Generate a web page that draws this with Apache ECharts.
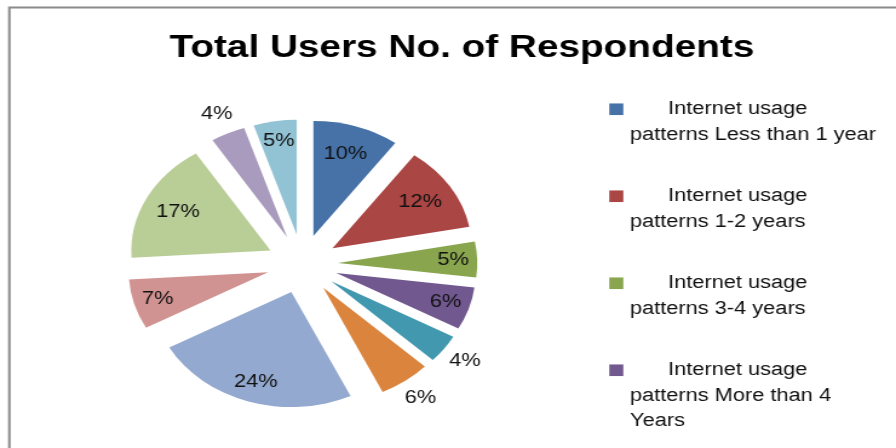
<!DOCTYPE html>
<html>
<head>
<meta charset="utf-8">
<script src="https://cdn.jsdelivr.net/npm/echarts@6/dist/echarts.min.js"></script>
<style>
  html, body { margin: 0; padding: 0; background: #fff; overflow: hidden; width: 896px; height: 448px; }
  /* the chart is laid out narrower and stretched horizontally to the full width */
  #chart { width: 740px; height: 448px; transform: scaleX(1.2108); transform-origin: 0 0; }
</style>
</head>
<body>
<div id="chart"></div>
<script>
// Respondent groups, clockwise from 12 o'clock
const categories = [
  'Internet usage patterns Less than 1 year',
  'Internet usage patterns 1-2 years',
  'Internet usage patterns 3-4 years',
  'Internet usage patterns More than 4 Years',
  'Group 5', 'Group 6', 'Group 7', 'Group 8', 'Group 9', 'Group 10', 'Group 11'
];
// Share of respondents, percent
const shares = [10, 12, 5, 6, 4, 6, 24, 7, 17, 4, 5];
// Wrapped legend text for the entries that fit in the legend box
const legendLines = [
  ['Internet usage', 'patterns Less than 1 year'],
  ['Internet usage', 'patterns 1-2 years'],
  ['Internet usage', 'patterns 3-4 years'],
  ['Internet usage', 'patterns More than 4', 'Years']
];

const colors = ['#4672A8', '#AA4644', '#89A54E', '#71588F', '#4198AF', '#DB843D',
                '#93A9CF', '#D19392', '#B9CD96', '#A99BBD', '#92C3D4'];
const FONT = 'Liberation Sans';

const CENTER = [249.7, 264];
const R = 115;
const EXPLODE = 29.5;

// distance of the percentage labels from each wedge's tip, grouped by wedge index
const labelRings = [
  { dist: 0.72 * R, idx: [0, 1, 8] },
  { dist: 0.80 * R, idx: [2, 3, 6, 7, 10] },
  { dist: 1.16 * R, idx: [4, 5, 9] }
];

const pieBase = {
  type: 'pie',
  center: CENTER,
  startAngle: 90,
  clockwise: true,
  selectedMode: 'multiple',
  selectedOffset: EXPLODE,
  avoidLabelOverlap: false,
  animation: false,
  labelLine: { show: false },
  emphasis: { disabled: true, scale: false },
  select: { itemStyle: { borderWidth: 0 } }
};

const pctLabel = (show) => ({
  show: show,
  position: 'inside',
  formatter: (p) => p.value + '%',
  color: '#111',
  fontFamily: FONT,
  fontSize: 18,
  padding: [8, 0, 0, 0]
});

// visible wedges
const wedges = Object.assign({}, pieBase, {
  name: 'wedges',
  radius: R,
  label: { show: false },
  data: shares.map((v, i) => ({
    name: categories[i], value: v, selected: true,
    itemStyle: { color: colors[i] }
  }))
});

// transparent rings that only carry the percentage labels
// (an inside label sits at half the ring radius)
const labelSeries = labelRings.map((ring, k) => Object.assign({}, pieBase, {
  name: 'labels' + k,
  radius: ring.dist * 2,
  silent: true,
  itemStyle: { color: 'rgba(0,0,0,0)' },
  data: shares.map((v, i) => ({
    name: categories[i], value: v, selected: true,
    label: pctLabel(ring.idx.indexOf(i) >= 0)
  }))
}));

// legend: square swatch on the first line, wrapped name below
const LINE_H = 25.5;
const rich = {
  gap: { width: 36.9, lineHeight: LINE_H },
  ind: { width: 17.1, lineHeight: LINE_H },
  t: { fontFamily: FONT, fontSize: 18, lineHeight: LINE_H, color: '#111' }
};
legendLines.forEach((_, i) => {
  rich['sq' + i] = { width: 11.6, height: 11.6, lineHeight: LINE_H, backgroundColor: colors[i] };
});

const option = {
  backgroundColor: '#fff',
  title: {
    text: 'Total Users No. of Respondents',
    left: 381.5,
    top: 32,
    padding: 0,
    textAlign: 'center',
    textStyle: { fontFamily: FONT, fontWeight: 'bold', fontSize: 32, color: '#000' }
  },
  legend: {
    orient: 'vertical',
    left: 498.2,
    top: 96.5,
    padding: 0,
    itemGap: 36,
    itemWidth: 0,
    itemHeight: 0,
    selectedMode: false,
    data: legendLines.map((_, i) => categories[i]),
    formatter: (name) => {
      const i = categories.indexOf(name);
      return legendLines[i].map((ln, k) => k === 0
        ? '{sq' + i + '|}{gap|}{t|' + ln + '}'
        : '{ind|}{t|' + ln + '}').join('\n');
    },
    textStyle: { fontFamily: FONT, fontSize: 18, lineHeight: LINE_H, rich: rich }
  },
  graphic: [{
    type: 'polyline',
    silent: true,
    shape: { points: [[7.7, 448], [7.7, 7.5], [740, 7.5]] },
    style: { stroke: '#8a8a8a', lineWidth: 2, fill: null }
  }],
  series: [wedges].concat(labelSeries)
};

const chart = echarts.init(document.getElementById('chart'), null, { renderer: 'canvas' });
chart.setOption(option);
</script>
</body>
</html>
